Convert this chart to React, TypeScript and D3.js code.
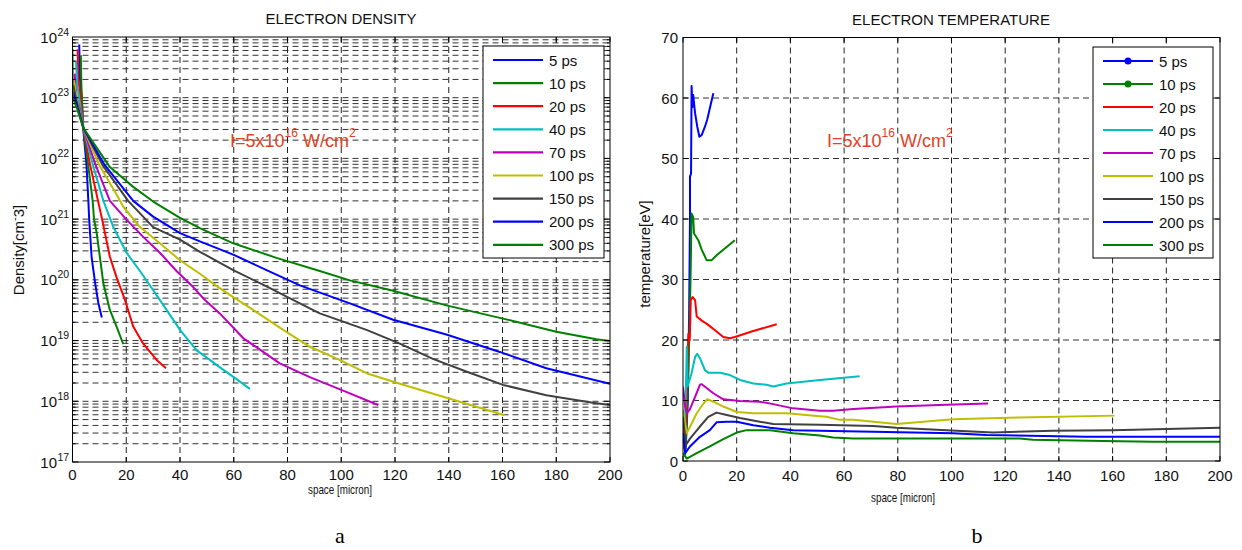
import React from 'react';
import * as d3 from 'd3';

type Pt = [number, number];

const seriesNames = ['5 ps', '10 ps', '20 ps', '40 ps', '70 ps', '100 ps', '150 ps', '200 ps', '300 ps'];
const seriesColors = ['#0000ff', '#008000', '#ff0000', '#00bfbf', '#bf00bf', '#bfbf00', '#404040', '#0000ff', '#008000'];

// Electron density [cm^-3] vs space [micron]
const dens5: Pt[] = [[2.5, 7.5e23], [2.8, 2e23], [3.4, 1e23], [4.0, 3e22], [5.2, 8e21], [5.9, 2e21], [6.2, 1e21], [7.1, 2.4e20], [8.4, 9e19], [9.6, 4.2e19], [10.9, 2.4e19]];
const dens10: Pt[] = [[3.1, 5e23], [3.3, 1.6e23], [4.0, 3.2e22], [5.8, 8e21], [7.5, 2e21], [8.0, 1e21], [9.0, 5.9e20], [11.5, 8.7e19], [13.9, 3.2e19], [16.4, 1.7e19], [18.9, 8.7e18]];
const dens20: Pt[] = [[1.9, 6.3e23], [2.2, 2e23], [3.0, 1e23], [4.0, 3.2e22], [6.5, 8e21], [9.5, 2e21], [11.0, 1e21], [13.9, 2.4e20], [16.4, 1.1e20], [19.5, 4.7e19], [22.6, 1.7e19], [26.3, 8.9e18], [31.3, 4.8e18], [34.8, 3.5e18]];
const dens40: Pt[] = [[1.3, 4e23], [1.8, 1.6e23], [2.8, 7.9e22], [4.0, 3.2e22], [7.5, 8e21], [11.5, 2e21], [15.2, 7.4e20], [20.1, 2.8e20], [25.1, 1.4e20], [30, 6.8e19], [35, 3.2e19], [40, 1.5e19], [46.2, 6.9e18], [51.1, 4.8e18], [54.2, 3.8e18], [60, 2.5e18], [66, 1.6e18]];
const dens70: Pt[] = [[0.8, 2.5e23], [1.5, 1e23], [2.8, 6.3e22], [4.0, 3.2e22], [8.5, 8e21], [13.9, 2e21], [20.1, 9.8e20], [26.3, 5.1e20], [32.5, 2.8e20], [38.7, 1.4e20], [44.9, 7.6e19], [49, 4.8e19], [54.8, 2.8e19], [63.5, 1.1e19], [77.1, 4.2e18], [88.3, 2.5e18], [100.7, 1.5e18], [113.7, 8.7e17]];
const dens100: Pt[] = [[0.5, 2e23], [1.5, 1e23], [4.0, 3.2e22], [9.8, 8e21], [16.5, 2.5e21], [18.9, 1.6e21], [25.1, 7.4e20], [32.5, 4e20], [40, 2.1e20], [47.4, 1.26e20], [54.2, 7.6e19], [59.8, 5.2e19], [67.2, 3.2e19], [78.4, 1.5e19], [88.3, 7.9e18], [99.4, 4.8e18], [109.4, 2.9e18], [121.8, 1.95e18], [140.4, 1.1e18], [160.8, 5.9e17]];
const dens150: Pt[] = [[0.3, 1.6e23], [1.5, 8.9e22], [4.0, 3.2e22], [11, 8e21], [20.7, 2e21], [30, 7.4e20], [40, 4.6e20], [47.4, 2.9e20], [59.8, 1.45e20], [72.2, 7.8e19], [84.6, 4.1e19], [92, 2.8e19], [109.4, 1.5e19], [121.8, 8.9e18], [134.1, 5e18], [146.5, 3.1e18], [160.2, 1.86e18], [176.3, 1.26e18], [193.6, 9.5e17], [200, 8.7e17]];
const dens200: Pt[] = [[0.1, 1.26e23], [1.5, 7.9e22], [4.0, 3.2e22], [11.8, 8e21], [22.6, 2e21], [30, 1.1e21], [40, 5.9e20], [47.4, 4.3e20], [59.8, 2.6e20], [72.2, 1.45e20], [84.6, 8.1e19], [103.2, 4.1e19], [119.3, 2.2e19], [139.1, 1.26e19], [159, 6.5e18], [176.3, 3.5e18], [200, 1.95e18]];
const dens300: Pt[] = [[0, 6.3e23], [0.1, 1e23], [1.5, 7e22], [4.0, 3.2e22], [13.9, 7.2e21], [22.6, 3.4e21], [30, 1.95e21], [40, 1.05e21], [47.4, 7.1e20], [59.8, 4e20], [75.9, 2.3e20], [90.8, 1.45e20], [103.2, 9.8e19], [119.3, 6.6e19], [139.1, 3.8e19], [160.2, 2.3e19], [180, 1.4e19], [194.9, 1.05e19], [200, 9.8e18]];
const densitySeries = [dens5, dens10, dens20, dens40, dens70, dens100, dens150, dens200, dens300];

// Electron temperature [eV] vs space [micron]
const temp5: Pt[] = [[1.0, 2], [1.8, 10], [2.3, 25], [2.6, 40], [2.6, 47], [3.0, 47.5], [3.2, 62], [3.5, 58.5], [3.8, 60.5], [4.5, 57.5], [5.3, 55.3], [6.1, 53.6], [7.0, 53.9], [8.2, 55.3], [9.0, 56.4], [10.0, 58.3], [11.3, 60.8]];
const temp10: Pt[] = [[0.8, 1], [1.5, 8], [2.3, 20], [2.8, 30], [3.2, 40.9], [3.8, 40.3], [4.1, 37.6], [5.7, 36.5], [7.0, 34.9], [8.8, 33.2], [10.7, 33.2], [12.5, 34.0], [19.3, 36.5]];
const temp20: Pt[] = [[0.5, 2], [1.2, 8], [1.6, 15], [2.0, 21], [2.5, 20], [2.9, 26.6], [3.6, 27.1], [4.5, 26.6], [5.1, 23.9], [7.0, 23.2], [9.4, 22.5], [12.5, 21.4], [15, 20.5], [17.5, 20.3], [19.3, 20.5], [26.2, 21.5], [34.9, 22.6]];
const temp40: Pt[] = [[0.3, 4], [1.0, 10], [1.4, 18.9], [1.7, 12.3], [3.2, 14.5], [4.5, 17.2], [5.3, 17.7], [6.3, 17.0], [8.2, 15.0], [9.4, 14.6], [13.8, 14.6], [17.5, 14.2], [21.2, 13.4], [26.2, 12.8], [31.1, 12.6], [33.6, 12.3], [38.6, 12.8], [51, 13.4], [65.8, 14.0]];
const temp70: Pt[] = [[0, 12.3], [0.8, 9], [1.4, 7.9], [2.5, 8.5], [4.5, 10.6], [6.3, 12.6], [7.0, 12.7], [11.3, 11.2], [15, 10.2], [21.2, 9.9], [28.6, 9.8], [33.6, 9.4], [41, 8.7], [51, 8.3], [55.9, 8.3], [63.4, 8.6], [79.5, 9.0], [98.1, 9.3], [113.6, 9.5]];
const temp100: Pt[] = [[0, 8.4], [1.4, 4.6], [3.0, 6], [5.1, 7.9], [7.6, 9.5], [9.0, 10.2], [11.3, 9.8], [15, 9.0], [20, 8.1], [26.2, 7.9], [38.6, 7.9], [51, 7.4], [53.5, 7.3], [58.4, 6.8], [63.4, 6.8], [79.5, 6.1], [100.6, 6.9], [125.4, 7.2], [160.7, 7.5]];
const temp150: Pt[] = [[0, 7.3], [1.0, 2.6], [2.6, 3.7], [6.3, 5.7], [9.4, 7.3], [12.5, 8.0], [16.3, 7.6], [21.2, 7.1], [28.6, 6.5], [33.6, 6.1], [51, 6.0], [70.8, 5.8], [79.5, 5.5], [98.1, 5.1], [115.4, 4.7], [137.8, 5.0], [160.1, 5.1], [200, 5.5]];
const temp200: Pt[] = [[0, 4.6], [0.8, 1.3], [2.6, 2.4], [6.3, 4.0], [10, 5.1], [12.5, 6.4], [16.3, 6.5], [20, 6.5], [26.2, 5.9], [32.4, 5.5], [41, 5.1], [51, 5.0], [75.8, 4.8], [100.6, 4.6], [113, 4.3], [150.2, 4.0], [200, 4.0]];
const temp300: Pt[] = [[0, 1.3], [1.4, 0.4], [5.1, 1.3], [10, 2.4], [15, 3.6], [20, 4.7], [23.7, 5.1], [32.4, 5.1], [41, 4.6], [51, 4.2], [55.9, 3.9], [63.4, 3.7], [125.4, 3.7], [130.3, 3.5], [156.4, 3.3], [175, 3.2], [200, 3.2]];
const temperatureSeries = [temp5, temp10, temp20, temp40, temp70, temp100, temp150, temp200, temp300];

const xTicks = [0, 20, 40, 60, 80, 100, 120, 140, 160, 180, 200];
const densityExponents = [17, 18, 19, 20, 21, 22, 23, 24];
const tempTicks = [0, 10, 20, 30, 40, 50, 60, 70];

const FONT = '"Liberation Sans", Arial, sans-serif';
const SERIF = '"Liberation Serif", "Times New Roman", serif';
const ANNOT_COLOR = '#e2401e';
const DASH = '6,4';

function Legend({ x, y, w, h, x0, x1, tx, y0, dy, markers }: any) {
  return (
    <g>
      <rect x={x} y={y} width={w} height={h} fill="#fff" stroke="#000" strokeWidth={1} />
      {seriesNames.map((n, i) => {
        const yy = y0 + i * dy;
        return (
          <g key={n}>
            <line x1={x0} x2={x1} y1={yy} y2={yy} stroke={seriesColors[i]} strokeWidth={2.2} />
            {markers && i < 2 ? <circle cx={(x0 + x1) / 2} cy={yy} r={3.5} fill={seriesColors[i]} /> : null}
            <text x={tx} y={yy + 5.5} fontSize={15} fontFamily={FONT} fill="#111">{n}</text>
          </g>
        );
      })}
    </g>
  );
}

function Annotation({ x, y }: { x: number; y: number }) {
  return (
    <text x={x} y={y} fontSize={18} fontFamily={FONT} fill={ANNOT_COLOR}>
      I=5x10<tspan fontSize={12} dy={-10}>16</tspan><tspan dy={10}> W/cm</tspan><tspan fontSize={12} dy={-10}>2</tspan>
    </text>
  );
}

function DensityChart() {
  const L = 72.5, R = 610, T = 37, B = 462;
  const x = d3.scaleLinear().domain([0, 200]).range([L, R]);
  const y = d3.scaleLog().domain([1e17, 1e24]).range([B, T]);
  const line = d3.line<Pt>().x(d => x(d[0])).y(d => y(d[1]));
  const minor: number[] = [];
  densityExponents.slice(0, -1).forEach(e => {
    for (let k = 1; k <= 9; k++) minor.push(k * Math.pow(10, e));
  });
  return (
    <g>
      <defs>
        <clipPath id="clipD"><rect x={L} y={T} width={R - L} height={B - T} /></clipPath>
      </defs>
      <rect x={L} y={T} width={R - L} height={B - T} fill="#fff" />
      {minor.filter(v => v > 1e17).map((v, i) => (
        <line key={'h' + i} x1={L} x2={R} y1={y(v)} y2={y(v)} stroke="#333" strokeWidth={1} strokeDasharray={DASH} />
      ))}
      {xTicks.slice(1, -1).map(t => (
        <line key={'v' + t} x1={x(t)} x2={x(t)} y1={T} y2={B} stroke="#222" strokeWidth={1} strokeDasharray={DASH} />
      ))}
      <g clipPath="url(#clipD)">
        {densitySeries.map((s, i) => (
          <path key={i} d={line(s) || ''} fill="none" stroke={seriesColors[i]} strokeWidth={2} strokeLinejoin="round" />
        ))}
      </g>
      {xTicks.map(t => (
        <g key={'xt' + t}>
          <line x1={x(t)} x2={x(t)} y1={B} y2={B - 5} stroke="#000" />
          <line x1={x(t)} x2={x(t)} y1={T} y2={T + 5} stroke="#000" />
          <text x={x(t)} y={480} textAnchor="middle" fontSize={15} fontFamily={FONT} fill="#111">{t}</text>
        </g>
      ))}
      {minor.map((v, i) => {
        const major = i % 9 === 0;
        const len = major ? 6 : 3;
        return (
          <g key={'yt' + i}>
            <line x1={L} x2={L + len} y1={y(v)} y2={y(v)} stroke="#000" />
            <line x1={R} x2={R - len} y1={y(v)} y2={y(v)} stroke="#000" />
          </g>
        );
      })}
      {densityExponents.map(e => (
        <g key={'yl' + e}>
          <text x={57} y={y(Math.pow(10, e)) + 5.5} textAnchor="end" fontSize={15} fontFamily={FONT} fill="#111">10</text>
          <text x={57.5} y={y(Math.pow(10, e)) - 1.5} fontSize={10.5} fontFamily={FONT} fill="#111">{e}</text>
        </g>
      ))}
      <rect x={L} y={T} width={R - L} height={B - T} fill="none" stroke="#000" strokeWidth={1} />
      <Legend x={483} y={46} w={121} h={212} x0={493} x1={543} tx={549} y0={60} dy={23.1} markers={false} />
      <Annotation x={230} y={147} />
      <text x={341} y={24} textAnchor="middle" fontSize={15} fontFamily={FONT} fill="#111">ELECTRON DENSITY</text>
      <text x={340} y={494} textAnchor="middle" fontSize={13} fontFamily={FONT} fill="#111" textLength={64} lengthAdjust="spacingAndGlyphs">space [micron]</text>
      <text transform="translate(24,250) rotate(-90)" textAnchor="middle" fontSize={15} fontFamily={FONT} fill="#111">
        Density[cm<tspan fontSize={11} dy={-6}>-</tspan><tspan dy={6}>3]</tspan>
      </text>
    </g>
  );
}

function TemperatureChart() {
  const L = 683, R = 1220, T = 37.5, B = 461;
  const x = d3.scaleLinear().domain([0, 200]).range([L, R]);
  const y = d3.scaleLinear().domain([0, 70]).range([B, T]);
  const line = d3.line<Pt>().x(d => x(d[0])).y(d => y(d[1]));
  return (
    <g>
      <defs>
        <clipPath id="clipT"><rect x={L} y={T} width={R - L} height={B - T} /></clipPath>
      </defs>
      <rect x={L} y={T} width={R - L} height={B - T} fill="#fff" />
      {tempTicks.slice(1, -1).map(t => (
        <line key={'h' + t} x1={L} x2={R} y1={y(t)} y2={y(t)} stroke="#333" strokeWidth={1} strokeDasharray={DASH} />
      ))}
      {xTicks.slice(1, -1).map(t => (
        <line key={'v' + t} x1={x(t)} x2={x(t)} y1={T} y2={B} stroke="#222" strokeWidth={1} strokeDasharray={DASH} />
      ))}
      <g clipPath="url(#clipT)">
        {temperatureSeries.map((s, i) => (
          <path key={i} d={line(s) || ''} fill="none" stroke={seriesColors[i]} strokeWidth={2} strokeLinejoin="round" />
        ))}
      </g>
      {xTicks.map(t => (
        <g key={'xt' + t}>
          <line x1={x(t)} x2={x(t)} y1={B} y2={B - 5} stroke="#000" />
          <line x1={x(t)} x2={x(t)} y1={T} y2={T + 5} stroke="#000" />
          <text x={x(t)} y={481} textAnchor="middle" fontSize={15} fontFamily={FONT} fill="#111">{t}</text>
        </g>
      ))}
      {tempTicks.map(t => (
        <g key={'yt' + t}>
          <line x1={L} x2={L + 5} y1={y(t)} y2={y(t)} stroke="#000" />
          <line x1={R} x2={R - 5} y1={y(t)} y2={y(t)} stroke="#000" />
          <text x={678} y={y(t) + 5.5} textAnchor="end" fontSize={15} fontFamily={FONT} fill="#111">{t}</text>
        </g>
      ))}
      <rect x={L} y={T} width={R - L} height={B - T} fill="none" stroke="#000" strokeWidth={1} />
      <Legend x={1093} y={47} w={120} h={211} x0={1103} x1={1153} tx={1159} y0={61} dy={23} markers={true} />
      <Annotation x={827} y={147} />
      <text x={951} y={25} textAnchor="middle" fontSize={15} fontFamily={FONT} fill="#111">ELECTRON TEMPERATURE</text>
      <text x={903} y={502} textAnchor="middle" fontSize={13} fontFamily={FONT} fill="#111" textLength={64} lengthAdjust="spacingAndGlyphs">space [micron]</text>
      <text transform="translate(650,254) rotate(-90)" textAnchor="middle" fontSize={15} fontFamily={FONT} fill="#111">temperature[eV]</text>
    </g>
  );
}

export default function App() {
  return (
    <svg width={1242} height={550} style={{ position: 'absolute', left: 0, top: 0, background: '#fff' }} xmlns="http://www.w3.org/2000/svg">
      <rect x={0} y={0} width={1242} height={550} fill="#fff" />
      <DensityChart />
      <TemperatureChart />
      <text x={340} y={543} textAnchor="middle" fontSize={22} fontFamily={SERIF} fill="#000">a</text>
      <text x={977} y={543} textAnchor="middle" fontSize={22} fontFamily={SERIF} fill="#000">b</text>
    </svg>
  );
}
